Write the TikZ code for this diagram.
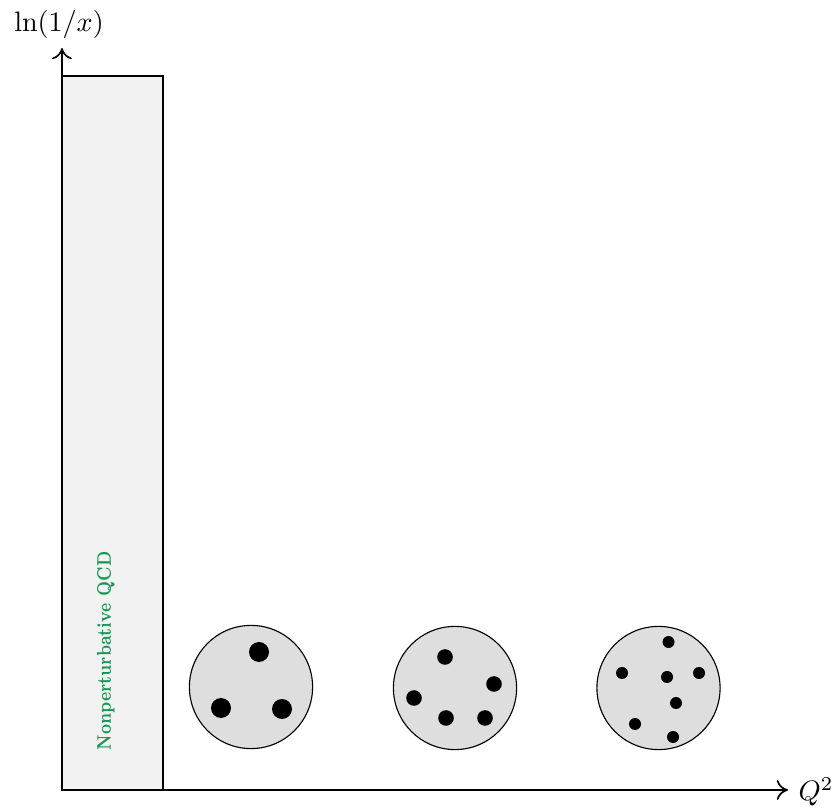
\documentclass[tikz,border=0pt]{standalone}
\usetikzlibrary{arrows.meta,calc}

\definecolor{qcdgreen}{RGB}{25,150,85}

\tikzset{
  axis/.style={semithick,-{To[length=4pt,width=7pt]}},
  hadron/.style={circle,draw=black,fill=black!13,thin,minimum size=15.4mm,inner sep=0pt},
  parton/.style={fill=black},
}

\begin{document}
\begin{tikzpicture}[x=1.25mm,y=1.25mm]
\useasboundingbox (-6.2,-1.9) rectangle (77.7,79.0);

  \coordinate (origin) at (0,0);
  \coordinate (ytip) at (0,74.2);
  \coordinate (xtip) at (72.6,0);

  % nonperturbative strip at low Q^2
  \draw[semithick,fill=black!5] (origin) rectangle (10.1,71.4);
  \node[rotate=90,xscale=0.79,text=qcdgreen,font=\fontsize{7}{8}\selectfont\bfseries] (npqcd) at (4.4,13.9) {Nonperturbative QCD};

  \draw[axis] (origin) -- (ytip);
  \draw[axis] (origin) -- (xtip);
  \node (ylabel) at (-0.3,76.6) {$\ln(1/x)$};
  \node (xlabel) at (75.4,-0.2) {$Q^2$};

  % hadrons resolved at increasing Q^2
  \node[hadron] (low) at (18.9,10.3) {};
  \node[hadron] (mid) at (39.3,10.2) {};
  \node[hadron] (high) at (59.65,10.2) {};

  \foreach \dx/\dy in {0.8/3.5, -3.0/-2.1, 3.1/-2.2}
    \fill[parton] ($(low)+(\dx,\dy)$) circle (1.0);
  \foreach \dx/\dy in {-1.0/3.1, 3.9/0.4, -4.1/-1.0, -0.9/-3.0, 3.0/-3.0}
    \fill[parton] ($(mid)+(\dx,\dy)$) circle (0.78);
  \foreach \dx/\dy in {1.0/4.6, -3.65/1.5, 0.85/1.1, 4.05/1.5, 1.75/-1.5, -2.35/-3.6, 1.45/-4.9}
    \fill[parton] ($(high)+(\dx,\dy)$) circle (0.6);

\end{tikzpicture}
\end{document}
